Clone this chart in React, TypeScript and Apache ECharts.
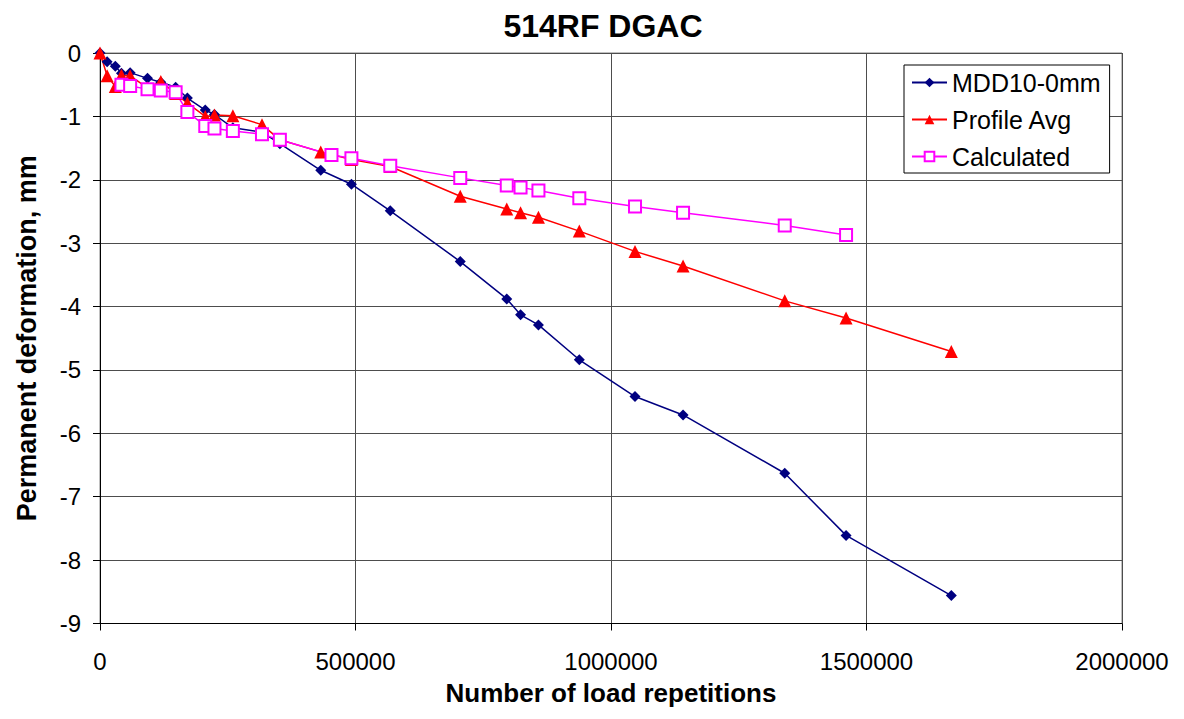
import React, { useEffect, useRef } from "react";
import * as echarts from "echarts";

const titleText = "514RF DGAC";
const xTitle = "Number of load repetitions";
const yTitle = "Permanent deformation, mm";
const seriesNames = ["MDD10-0mm", "Profile Avg", "Calculated"];

const reps = [0, 14000, 30000, 42000, 59000, 93000, 119000, 148000, 171000, 206000, 224000, 260000, 317000, 352000, 432000, 453000, 492000, 568000, 705000, 796000, 823000, 858000, 938000, 1047000, 1141000, 1340000, 1460000, 1666000];
const mdd = [0, -0.14, -0.21, -0.32, -0.31, -0.4, -0.46, -0.54, -0.71, -0.9, -0.97, -1.18, -1.25, -1.43, -1.85, null, -2.07, -2.49, -3.29, -3.88, -4.13, -4.29, -4.84, -5.42, -5.71, -6.63, -7.61, -8.56];
const profile = [0, -0.36, -0.53, -0.35, -0.36, -0.55, -0.45, -0.64, -0.79, -1.0, -0.98, -0.99, -1.13, -1.37, -1.56, null, -1.68, -1.79, -2.26, -2.46, -2.52, -2.59, -2.81, -3.13, -3.36, -3.91, -4.18, -4.71];
const calc = [null, null, null, -0.5, -0.52, -0.57, -0.59, -0.62, -0.93, -1.15, -1.19, -1.23, -1.28, -1.37, null, -1.61, -1.66, -1.78, -1.97, -2.09, -2.12, -2.17, -2.29, -2.42, -2.52, -2.72, -2.87, null];

const FONT = "'Liberation Sans', Arial, sans-serif";

function pairs(ys: (number | null)[]) {
  const out: [number, number][] = [];
  reps.forEach((x, i) => {
    const y = ys[i];
    if (y !== null && y !== undefined) out.push([x, y]);
  });
  return out;
}

export default function App() {
  const ref = useRef<HTMLDivElement>(null);
  useEffect(() => {
    document.body.style.margin = "0";
    if (!ref.current) return;
    const chart = echarts.init(ref.current, null, { renderer: "svg" });
    chart.setOption({
      animation: false,
      backgroundColor: "#ffffff",
      textStyle: { fontFamily: FONT },
      title: {
        text: titleText,
        left: 598,
        textAlign: "center",
        top: 5,
        textStyle: { fontFamily: FONT, fontSize: 32, fontWeight: "bold", color: "#000" },
      },
      legend: {
        orient: "vertical",
        left: 904,
        top: 65,
        width: 211,
        padding: [4, 9, 3, 7],
        itemGap: 10,
        itemWidth: 35,
        itemHeight: 12,
        backgroundColor: "#ffffff",
        borderColor: "#000000",
        borderWidth: 1,
        borderRadius: 0,
        textStyle: { fontFamily: FONT, fontSize: 25, color: "#000", lineHeight: 27, padding: [0, 0, 0, 0] },
        data: seriesNames,
      },
      grid: { left: 100, top: 53, right: 62, bottom: 95.5, show: true, borderColor: "#808080", borderWidth: 1 },
      xAxis: {
        type: "value",
        min: 0,
        max: 2000000,
        interval: 500000,
        name: xTitle,
        nameLocation: "middle",
        nameGap: 56,
        nameTextStyle: { fontFamily: FONT, fontSize: 26, fontWeight: "bold", color: "#000" },
        axisLine: { show: true, onZero: false, lineStyle: { color: "#000", width: 1 } },
        axisTick: { show: true, inside: false, length: 7, lineStyle: { color: "#000" } },
        axisLabel: {
          fontFamily: FONT,
          fontSize: 24,
          color: "#000",
          margin: 26,
          formatter: (v: number) => String(v),
        },
        splitLine: { show: true, lineStyle: { color: "#4d4d4d", width: 1 } },
      },
      yAxis: {
        type: "value",
        min: -9,
        max: 0,
        interval: 1,
        name: yTitle,
        nameLocation: "middle",
        nameGap: 60,
        nameTextStyle: { fontFamily: FONT, fontSize: 27, fontWeight: "bold", color: "#000" },
        axisLine: { show: true, onZero: false, lineStyle: { color: "#000", width: 1 } },
        axisTick: { show: true, inside: false, length: 7, lineStyle: { color: "#000" } },
        axisLabel: { fontFamily: FONT, fontSize: 24, color: "#000", margin: 19 },
        splitLine: { show: true, lineStyle: { color: "#4d4d4d", width: 1 } },
      },
      series: [
        {
          name: seriesNames[0],
          type: "line",
          data: pairs(mdd),
          symbol: "diamond",
          symbolSize: 11,
          lineStyle: { color: "#000080", width: 1.5 },
          itemStyle: { color: "#000080" },
        },
        {
          name: seriesNames[1],
          type: "line",
          data: pairs(profile),
          symbol: "triangle",
          symbolSize: 13,
          lineStyle: { color: "#ff0000", width: 1.5 },
          itemStyle: { color: "#ff0000" },
        },
        {
          name: seriesNames[2],
          type: "line",
          data: pairs(calc),
          symbol: "emptyRect",
          symbolSize: 12,
          lineStyle: { color: "#ff00ff", width: 1.5 },
          itemStyle: { color: "#ff00ff", borderColor: "#ff00ff", borderWidth: 2 },
        },
      ],
    });
    return () => chart.dispose();
  }, []);
  return <div ref={ref} style={{ width: 1184, height: 719 }} />;
}
